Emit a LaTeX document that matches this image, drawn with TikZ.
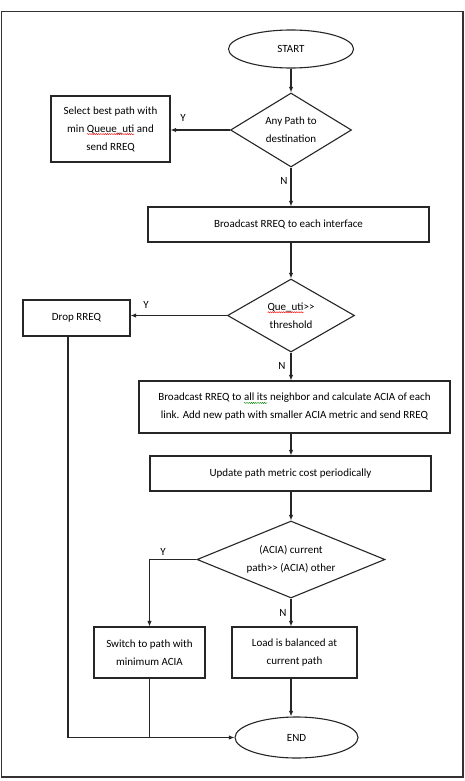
\documentclass[tikz,border=0pt]{standalone}
\usepackage{fontspec}
\setmainfont{Carlito}
\usetikzlibrary{shapes.geometric,arrows.meta,decorations.pathmorphing}
\newcommand\wav[2]{\tikz[baseline=(t.base)]{\node[draw=none,fill=none,inner sep=0pt,outer sep=0pt,minimum width=0pt,minimum height=0pt,rectangle] (t) {#2}; \draw[#1, line width=0.4pt, decorate, decoration={snake,amplitude=0.6pt,segment length=2.2pt}] ([yshift=-2pt]t.base west) -- ([yshift=-2pt]t.base east);}}
\newcommand\twogt{{>}{>}}
\tikzset{
  base/.style={draw=black!85, line width=1.1pt, align=center, inner sep=1pt, font=\fontsize{11}{18}\selectfont},
  box/.style={base, rectangle},
  term/.style={base, ellipse},
  dec/.style={base, diamond, inner sep=0pt},
  arr/.style={draw=black!85, line width=1.1pt, -{Latex[length=5.5pt,width=4.5pt]}},
  ln/.style={draw=black!85, line width=1.1pt},
  lbl/.style={font=\fontsize{11}{12}\selectfont, inner sep=0pt}
}
\begin{document}
\begin{tikzpicture}[x=1pt,y=-1pt]
\useasboundingbox (0,0) rectangle (465,781);
\fill[white] (0,0) rectangle (465,781);
\draw[line width=1.6pt, black!80] (1.5,11.5) rectangle (463,777);

\node[term, minimum width=125pt, minimum height=38pt] (start) at (291,49) {START};
\node[dec, aspect=1.6, minimum width=121pt, minimum height=74pt] (d1) at (291,130) {Any Path to\\destination};
\node[box, minimum width=119pt, minimum height=66pt] (b1) at (110.5,129) {Select best path with\\min \wav{red}{Queue\_uti} and\\send RREQ};
\node[box, minimum width=281pt, minimum height=35pt] (b2) at (288.5,224.5) {Broadcast RREQ to each interface};
\node[dec, aspect=1.7, minimum width=127pt, minimum height=73pt] (d2) at (291,315.5) {\wav{red}{Que\_uti}\twogt\\threshold};
\node[box, minimum width=107pt, minimum height=36pt] (b3) at (76.5,318) {Drop RREQ};
\node[box, minimum width=311pt, minimum height=52pt] (b4) at (294.5,407) {Broadcast RREQ to \wav{green!50!black}{all its} neighbor and calculate ACIA of each\\link. Add new path with smaller ACIA metric and send RREQ};
\node[box, minimum width=281pt, minimum height=35pt] (b5) at (290.5,473.5) {Update path metric cost periodically};
\node[dec, aspect=2.4, minimum width=188pt, minimum height=77pt] (d3) at (291,559.5) {(ACIA) current\\path\twogt{} (ACIA) other};
\node[box, minimum width=111pt, minimum height=51pt] (b6) at (149.5,652.5) {Switch to path with\\minimum ACIA};
\node[box, minimum width=125pt, minimum height=51pt] (b7) at (294.5,652.5) {Load is balanced at\\current path};
\node[term, minimum width=123pt, minimum height=41pt] (end) at (296.5,737.5) {END};

\node[lbl] (y1) at (183,118) {Y};
\node[lbl] (n1) at (284,181) {N};
\node[lbl] (y2) at (146,305) {Y};
\node[lbl] (n2) at (282,366) {N};
\node[lbl] (y3) at (163,552) {Y};
\node[lbl] (n3) at (283,613) {N};

\draw[arr] (start) -- (d1);
\draw[arr] (d1.west) -- (b1.east |- d1.west);
\draw[arr] (d1.south) -- (d1.south |- b2.north);
\draw[arr] (b2.south -| d1.south) -- (d2.north);
\draw[arr] (d2.west) -- (b3.east |- d2.west);
\draw[arr] (d2.south) -- (d2.south |- b4.north);
\draw[arr] (b4.south -| d2.south) -- (b5.north -| d2.south);
\draw[arr] (b5.south -| d3.north) -- (d3.north);
\draw[arr] (d3.west) -| (b6.north);
\draw[arr] (d3.south) -- (d3.south |- b7.north);
\draw[arr] (b7.south -| d3.south) -- (end.north -| d3.south);
\draw[arr] ([xshift=-8.5pt]b3.south) |- (end.west);
\draw[ln] (b6.south) -- (b6.south |- end.west);
\end{tikzpicture}
\end{document}
